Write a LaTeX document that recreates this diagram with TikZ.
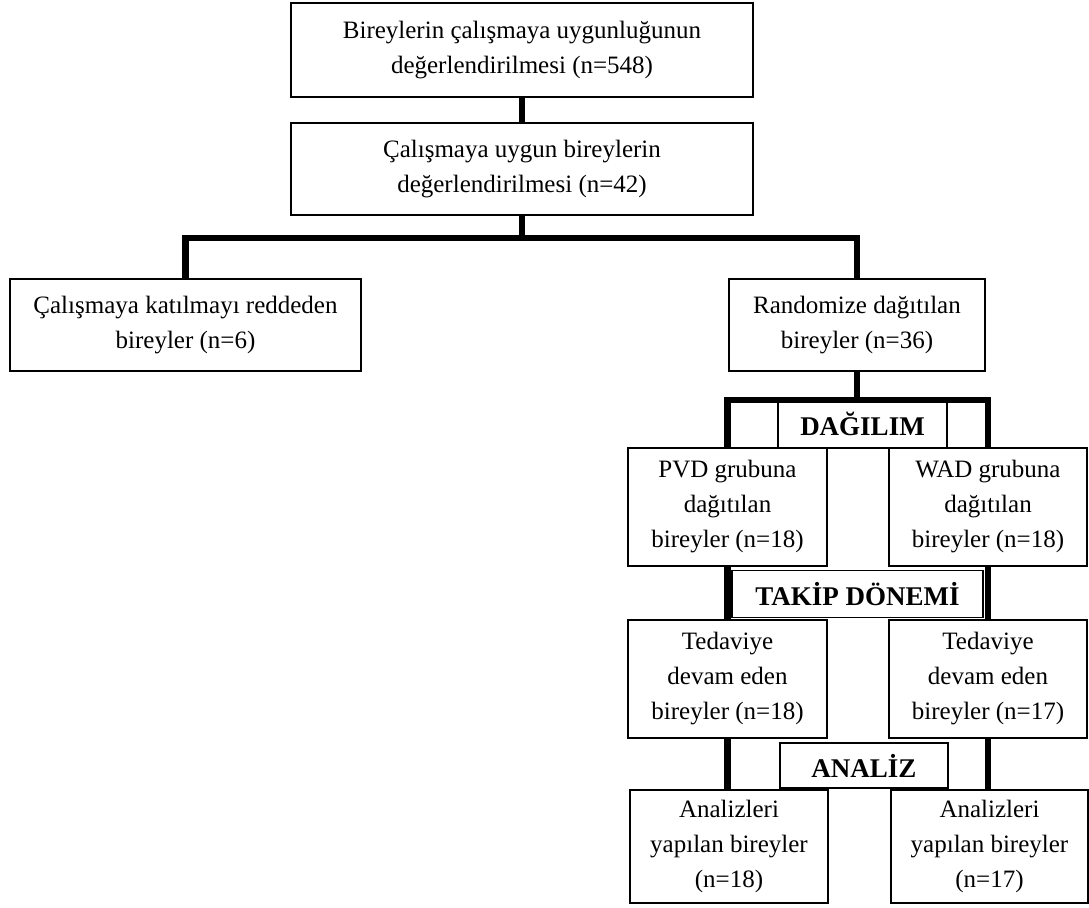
\documentclass[tikz,border=0pt]{standalone}
\usepackage{fontspec}
\setmainfont{Liberation Serif}
\usepackage{tikz}
\usetikzlibrary{positioning}

\begin{document}
\begin{tikzpicture}[
    x=0.5pt, y=-0.5pt,
    box/.style={rectangle, draw, line width=0.6pt, align=center, inner sep=0pt, font=\fontsize{12.5}{17.5}\selectfont},
    phase/.style={rectangle, draw, line width=0.6pt, align=center, inner sep=0pt, font=\fontsize{13.5}{16}\selectfont\bfseries},
    link/.style={line width=3.2pt}
]
    \useasboundingbox (0,0) rectangle (1089,907);

    % Screening
    \node[box, minimum width=231pt, minimum height=47pt] (screen) at (522,50) {Bireylerin çalışmaya uygunluğunun\\değerlendirilmesi (n=548)};
    \node[box, minimum width=231pt, minimum height=46pt] (eval) at (522,169) {Çalışmaya uygun bireylerin\\değerlendirilmesi (n=42)};

    % Split
    \node[box, minimum width=175.5pt, minimum height=46pt] (reject) at (185.5,325) {Çalışmaya katılmayı reddeden\\bireyler (n=6)};
    \node[box, minimum width=128pt, minimum height=46pt] (random) at (857,325) {Randomize dağıtılan\\bireyler (n=36)};

    % Groups
    \node[box, minimum width=99.5pt, minimum height=59pt] (pvd) at (727.5,507) {PVD grubuna\\dağıtılan\\bireyler (n=18)};
    \node[box, minimum width=99pt, minimum height=59pt] (wad) at (988,507) {WAD grubuna\\dağıtılan\\bireyler (n=18)};
    \node[box, minimum width=99.5pt, minimum height=59pt] (pvdcont) at (727.5,679) {Tedaviye\\devam eden\\bireyler (n=18)};
    \node[box, minimum width=99pt, minimum height=59pt] (wadcont) at (988,679) {Tedaviye\\devam eden\\bireyler (n=17)};
    \node[box, minimum width=99pt, minimum height=56.5pt] (pvdan) at (729,846.5) {Analizleri\\yapılan bireyler\\(n=18)};
    \node[box, minimum width=98.5pt, minimum height=56.5pt] (wadan) at (989.5,846.5) {Analizleri\\yapılan bireyler\\(n=17)};

    % Phases
    \node[phase, minimum width=84.5pt, minimum height=24pt] (dagilim) at (862.5,424) {DAĞILIM};
    \node[phase, minimum width=125.5pt, minimum height=23.5pt] (takip) at (857.5,594) {TAKİP DÖNEMİ};
    \node[phase, minimum width=84pt, minimum height=22.5pt] (analiz) at (864,765.5) {ANALİZ};

    % Links
    \coordinate (split) at (522,238);
    \coordinate (dagsplit) at (857,400);
    \draw[link] (screen) -- (eval);
    \draw[link] (eval.south) -- (split);
    \draw[link] (reject.north) |- (split) -| (random.north);
    \draw[link] (random.south) -- (dagsplit);
    \draw[link] (pvd.north) |- (dagsplit) -| (wad.north);
    \draw[link] (pvd.south) -- (pvdcont.north);
    \draw[link] (wad.south) -- (wadcont.north);
    \draw[link] (pvdcont.south) -- (pvdcont.south |- pvdan.north);
    \draw[link] (wadcont.south) -- (wadcont.south |- wadan.north);
\end{tikzpicture}
\end{document}
